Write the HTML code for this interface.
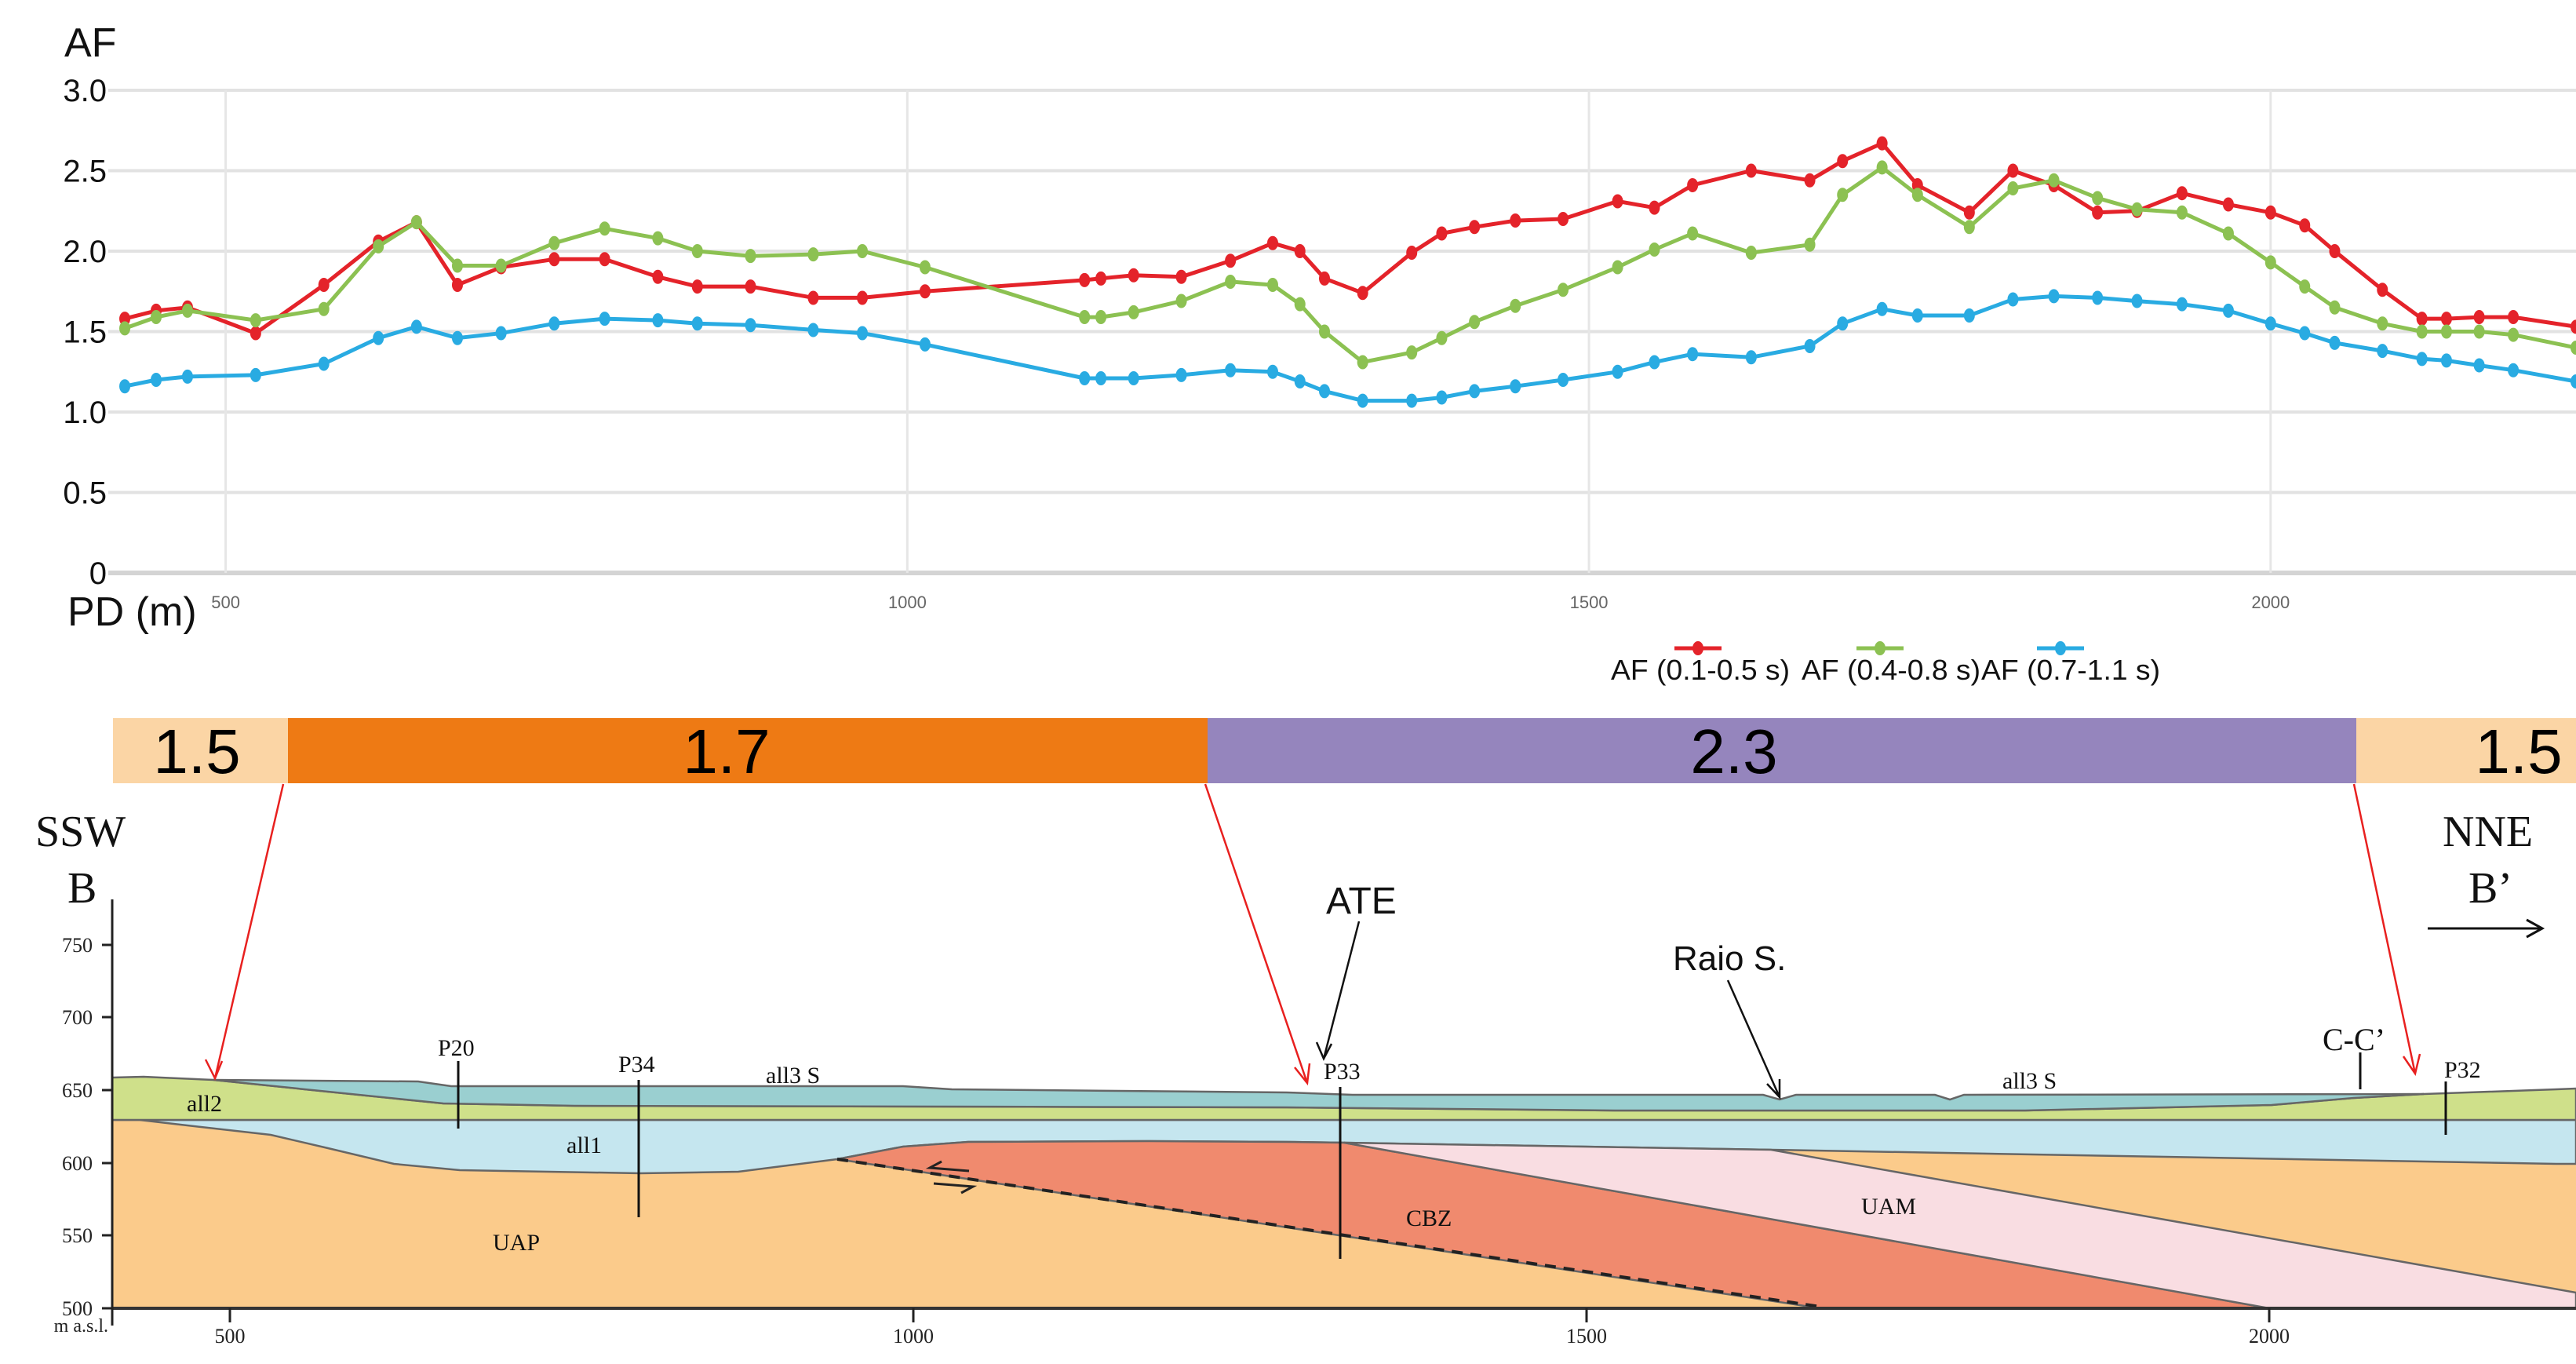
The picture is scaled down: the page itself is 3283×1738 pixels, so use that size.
<!DOCTYPE html>
<html><head><meta charset="utf-8">
<style>
html,body{margin:0;padding:0;background:#fff;}
svg{display:block;}
.nar{font-family:"Liberation Sans Narrow","Liberation Sans",sans-serif;}
.ser{font-family:"Liberation Serif",serif;}
</style></head>
<body>
<svg id="fig" width="3283" height="1738" viewBox="0 0 3283 1738" xmlns="http://www.w3.org/2000/svg">
  <g id="chart"></g>
  <g id="legend"></g>

  <g>
    <rect x="144" y="915" width="223" height="83" fill="#FBD5A5"/>
    <rect x="367" y="915" width="1172" height="83" fill="#EE7A14"/>
    <rect x="1539" y="915" width="1464" height="83" fill="#9585BD"/>
    <rect x="3003" y="915" width="280" height="83" fill="#FBD5A5"/>
    <g class="nar" font-size="80" text-anchor="middle" fill="#000">
      <text x="251" y="985">1.5</text>
      <text x="926" y="985">1.7</text>
      <text x="2210" y="985">2.3</text>
      <text x="3210" y="985">1.5</text>
    </g>
  </g>

  <g stroke="#666" stroke-width="2.5">
    <rect x="143" y="1420" width="3140" height="247" fill="#FBCB8B" stroke="none"/>
    <path fill="#C5E6EF" d="M143,1427 L3283,1427 L3283,1483 L3258,1483 L2257,1465 L1713,1456 L1640,1455 L1464,1454 L1234,1455 L1151,1461 L1067,1477 L1004,1485 L941,1493 L816,1495 L586,1491 L502,1483 L418,1463 L345,1446 L230,1433 L143,1423 Z"/>
    <path fill="#F08A6E" d="M1067,1477 L1151,1461 L1234,1455 L1464,1454 L1640,1455 L1713,1456 L2892,1667 L2320,1667 Z"/>
    <path fill="#F9DDE2" d="M1713,1456 L2257,1465 L3283,1647 L3283,1667 L2892,1667 Z"/>
    <path fill="#CFE08A" d="M143,1373 L183,1372 L272,1376 L418,1391 L565,1406 L732,1409 L1640,1411 L2058,1415 L2581,1415 L2895,1408 L3000,1399 L3089,1394 L3258,1388 L3283,1387 L3283,1427 L143,1427 Z"/>
    <path fill="#9ACFD0" d="M272,1376 L533,1378 L575,1384 L1151,1384 L1213,1388 L1640,1392 L1724,1395 L2247,1395 L2268,1401 L2289,1395 L2466,1395 L2485,1401 L2503,1395 L3089,1394 L3000,1399 L2895,1408 L2581,1415 L2058,1415 L1640,1411 L732,1409 L565,1406 L418,1391 Z"/>
    <line x1="1067" y1="1477" x2="2320" y2="1665" stroke="#222" stroke-width="4" stroke-dasharray="14,10"/>
    <line x1="143" y1="1667" x2="3283" y2="1667" stroke="#333" stroke-width="4"/>
  </g>
  <g stroke="#222" stroke-width="3" fill="none">
    <path d="M1235,1492 L1185,1488 L1200,1480"/>
    <path d="M1190,1508 L1240,1512 L1225,1520"/>
  </g>
  <g stroke="#222" stroke-width="3">
    <line x1="143" y1="1146" x2="143" y2="1689"/>
    <line x1="130" y1="1204" x2="143" y2="1204"/><line x1="130" y1="1296" x2="143" y2="1296"/>
    <line x1="130" y1="1389" x2="143" y2="1389"/><line x1="130" y1="1482" x2="143" y2="1482"/>
    <line x1="130" y1="1574" x2="143" y2="1574"/><line x1="130" y1="1667" x2="143" y2="1667"/>
    <line x1="293" y1="1667" x2="293" y2="1685"/><line x1="1164" y1="1667" x2="1164" y2="1685"/>
    <line x1="2022" y1="1667" x2="2022" y2="1685"/><line x1="2892" y1="1667" x2="2892" y2="1685"/>
  </g>
  <g class="ser" font-size="26" fill="#222" text-anchor="end">
    <text x="118" y="1213">750</text>
    <text x="118" y="1305">700</text>
    <text x="118" y="1398">650</text>
    <text x="118" y="1491">600</text>
    <text x="118" y="1583">550</text>
    <text x="118" y="1676">500</text>
    <text x="138" y="1697" font-size="24">m a.s.l.</text>
  </g>
  <g class="ser" font-size="26" fill="#222" text-anchor="middle">
    <text x="293" y="1711">500</text>
    <text x="1164" y="1711">1000</text>
    <text x="2022" y="1711">1500</text>
    <text x="2892" y="1711">2000</text>
  </g>
  <g stroke="#111" stroke-width="3">
    <line x1="584" y1="1352" x2="584" y2="1438"/>
    <line x1="814" y1="1376" x2="814" y2="1551"/>
    <line x1="1708" y1="1385" x2="1708" y2="1604"/>
    <line x1="3117" y1="1378" x2="3117" y2="1446"/>
    <line x1="3008" y1="1341" x2="3008" y2="1388"/>
  </g>
  <g class="ser" fill="#111" font-size="30">
    <text x="558" y="1345">P20</text>
    <text x="788" y="1366">P34</text>
    <text x="1687" y="1375">P33</text>
    <text x="3115" y="1373">P32</text>
    <text x="976" y="1380">all3 S</text>
    <text x="2552" y="1387">all3 S</text>
    <text x="238" y="1416">all2</text>
    <text x="722" y="1469">all1</text>
    <text x="628" y="1593">UAP</text>
    <text x="2372" y="1547">UAM</text>
    <text x="1792" y="1562">CBZ</text>
    <text x="2960" y="1338" font-size="40">C-C’</text>
  </g>
  <g class="ser" fill="#111" font-size="56">
    <text x="45" y="1078">SSW</text>
    <text x="86" y="1150">B</text>
    <text x="3113" y="1078">NNE</text>
    <text x="3146" y="1150">B’</text>
  </g>
  <g stroke="#111" stroke-width="3" fill="none">
    <line x1="3094" y1="1183" x2="3240" y2="1183"/><path d="M3220,1172 L3240,1183 L3220,1194"/>
  </g>
  <g class="nar" fill="#111" font-size="48">
    <text x="1690" y="1164">ATE</text>
    <text x="2132" y="1236" font-size="44">Raio S.</text>
  </g>
  <g stroke="#111" stroke-width="2.5" fill="none">
    <path d="M1732,1174 L1687,1349 M1678,1328 L1687,1349 L1697,1330"/>
    <path d="M2202,1249 L2268,1398 M2252,1381 L2268,1398 L2268,1375"/>
  </g>
  <g stroke="#E8201F" stroke-width="2.5" fill="none">
    <path d="M361,999 L274,1374 M262,1350 L274,1374 L283,1352"/>
    <path d="M1536,999 L1666,1380 M1650,1360 L1666,1380 L1669,1355"/>
    <path d="M3000,999 L3078,1368 M3063,1346 L3078,1368 L3084,1343"/>
  </g>
</svg>
<script>
const distances = [426,449,472,522,572,612,640,670,702,741,778,817,846,885,931,967,1013,1130,1142,1166,1201,1237,1268,1288,1306,1334,1370,1392,1416,1446,1481,1521,1548,1576,1619,1662,1686,1715,1741,1779,1811,1841,1873,1902,1935,1969,2000,2025,2047,2082,2111,2129,2153,2178,2224];
const afShort = [1.58,1.63,1.65,1.49,1.79,2.06,2.18,1.79,1.90,1.95,1.95,1.84,1.78,1.78,1.71,1.71,1.75,1.82,1.83,1.85,1.84,1.94,2.05,2.00,1.83,1.74,1.99,2.11,2.15,2.19,2.20,2.31,2.27,2.41,2.50,2.44,2.56,2.67,2.41,2.24,2.50,2.41,2.24,2.25,2.36,2.29,2.24,2.16,2.00,1.76,1.58,1.58,1.59,1.59,1.53];
const afMid = [1.52,1.59,1.63,1.57,1.64,2.03,2.18,1.91,1.91,2.05,2.14,2.08,2.00,1.97,1.98,2.00,1.90,1.59,1.59,1.62,1.69,1.81,1.79,1.67,1.50,1.31,1.37,1.46,1.56,1.66,1.76,1.90,2.01,2.11,1.99,2.04,2.35,2.52,2.35,2.15,2.39,2.44,2.33,2.26,2.24,2.11,1.93,1.78,1.65,1.55,1.50,1.50,1.50,1.48,1.40];
const afLong = [1.16,1.20,1.22,1.23,1.30,1.46,1.53,1.46,1.49,1.55,1.58,1.57,1.55,1.54,1.51,1.49,1.42,1.21,1.21,1.21,1.23,1.26,1.25,1.19,1.13,1.07,1.07,1.09,1.13,1.16,1.20,1.25,1.31,1.36,1.34,1.41,1.55,1.64,1.60,1.60,1.70,1.72,1.71,1.69,1.67,1.63,1.55,1.49,1.43,1.38,1.33,1.32,1.29,1.26,1.19];
const yTicks = [0,0.5,1.0,1.5,2.0,2.5,3.0];
const yTickLabels = ["0","0.5","1.0","1.5","2.0","2.5","3.0"];
const xTicks = [500,1000,1500,2000];
const seriesNames = ["AF (0.1-0.5 s)","AF (0.4-0.8 s)","AF (0.7-1.1 s)"];

const NS = "http://www.w3.org/2000/svg";
const X0 = 146, X1 = 3283, D0 = 418.5, D1 = 2224;
const Y0 = 730, Y1 = 115, V0 = 0, V1 = 3;
function xs(d){ return X0 + (d - D0) * (X1 - X0) / (D1 - D0); }
function ys(v){ return Y0 - (v - V0) * (Y0 - Y1) / (V1 - V0); }
function mk(tag, attrs, parent){ const e = document.createElementNS(NS, tag); for (const k in attrs) e.setAttribute(k, attrs[k]); parent.appendChild(e); return e; }

const chart = document.getElementById('chart');
const clip = mk('clipPath', {id:'plotclip'}, chart);
mk('rect', {x:X0, y:Y1-20, width:X1-X0, height:Y0-Y1+40}, clip);

yTicks.forEach((v, i) => {
  const g = mk('line', {x1:X0-8, x2:X1, y1:ys(v), y2:ys(v), stroke: v===0 ? '#d4d4d4' : '#e2e2e2', 'stroke-width': v===0 ? 6 : 4}, chart);
  
  
  const t = mk('text', {x:136, y:ys(v)+14, 'text-anchor':'end', 'font-size':40, fill:'#111', class:'nar'}, chart);
  t.textContent = yTickLabels[i];
  
  
});
xTicks.forEach(d => {
  const g = mk('line', {x1:xs(d), x2:xs(d), y1:Y1, y2:Y0, stroke:'#e6e6e6', 'stroke-width':3}, chart);
  
  
  const t = mk('text', {x:xs(d), y:Y0+45, 'text-anchor':'middle', 'font-size':22, fill:'#666', class:'nar'}, chart);
  t.textContent = String(d);
  
  
});
const af = mk('text', {x:82, y:72, 'font-size':52, fill:'#111', class:'nar'}, chart);
af.textContent = 'AF';


const pd = mk('text', {x:86, y:797, 'font-size':52, fill:'#111', class:'nar'}, chart);
pd.textContent = 'PD (m)';



const series = [afShort, afMid, afLong];
const colors = ['#E4232A', '#8CC152', '#29ABE2'];
const names = ['series-af-short', 'series-af-mid', 'series-af-long'];
series.forEach((vals, s) => {
  const g = mk('g', {'clip-path':'url(#plotclip)'}, chart);
  
  
  const pts = vals.map((v, i) => xs(distances[i]).toFixed(1) + ',' + ys(v).toFixed(1)).join(' ');
  const pl = mk('polyline', {points:pts, fill:'none', stroke:colors[s], 'stroke-width':5, 'stroke-linejoin':'round'}, g);
  
  
  vals.forEach((v, i) => {
    const c = mk('ellipse', {cx:xs(distances[i]), cy:ys(v), rx:7, ry:9, fill:colors[s]}, g);
    
    
  });
});

const legend = document.getElementById('legend');
const lx = [2164, 2396, 2626];
const tx = [2053, 2296, 2525];
seriesNames.forEach((n, s) => {
  const l = mk('line', {x1:lx[s]-30, x2:lx[s]+30, y1:826, y2:826, stroke:colors[s], 'stroke-width':5}, legend);
  
  
  const c = mk('ellipse', {cx:lx[s], cy:826, rx:7, ry:9, fill:colors[s]}, legend);
  
  
  const t = mk('text', {x:tx[s], y:866, 'font-size':36, fill:'#111', class:'nar', textLength:228, lengthAdjust:'spacingAndGlyphs'}, legend);
  t.textContent = n;
  
  
});
</script>
</body></html>
